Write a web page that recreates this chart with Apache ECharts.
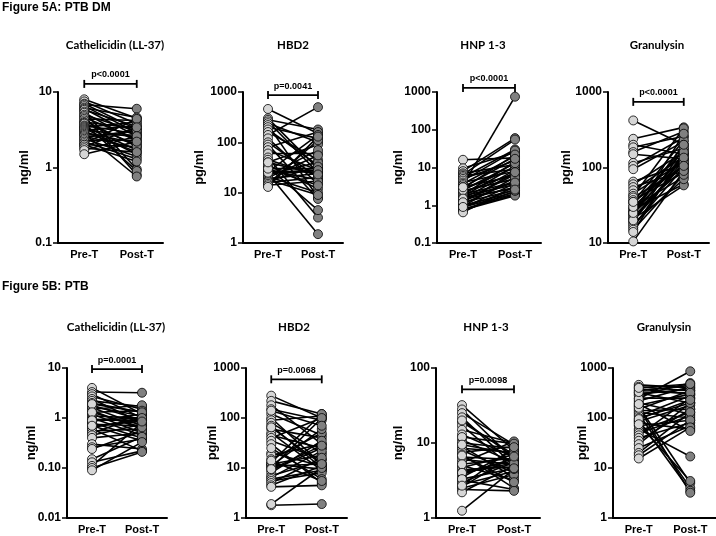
<!DOCTYPE html>
<html><head><meta charset="utf-8">
<script src="https://cdn.jsdelivr.net/npm/echarts@6/dist/echarts.min.js"></script>
<style>html,body{margin:0;padding:0;background:#fff}#c{width:716px;height:536px}</style>
</head><body><div id="c"></div>
<script>
// ---------- data ----------
const categories = ['Pre-T', 'Post-T'];
const panelTitles = ['Cathelicidin (LL-37)', 'HBD2', 'HNP 1-3', 'Granulysin', 'Cathelicidin (LL-37)', 'HBD2', 'HNP 1-3', 'Granulysin'];
const unitNames = ['ng/ml', 'pg/ml', 'ng/ml', 'pg/ml', 'ng/ml', 'pg/ml', 'ng/ml', 'pg/ml'];
const pValues = ['p<0.0001', 'p=0.0041', 'p<0.0001', 'p<0.0001', 'p=0.0001', 'p=0.0068', 'p=0.0098', null];
const bracketLevels = [12.8, 870, 1280, 740, 9.5, 594, 52, null];
const yMins = [0.1, 1, 0.1, 10, 0.01, 1, 1, 1];
const yMaxs = [10, 1000, 1000, 1000, 10, 1000, 100, 1000];
const yTickLabels5B = {'10': '10', '1': '1', '0.1': '0.10', '0.01': '0.01'};

// Figure 5A: PTB DM
const cathDM_pre  = [8.0, 7.5, 7.0, 6.8, 6.5, 6.2, 6.0, 5.8, 5.5, 5.3, 5.0, 4.8, 4.6, 4.4, 4.2, 4.0, 3.9, 3.8, 3.6, 3.5, 3.4, 3.3, 3.2, 3.1, 3.0, 2.9, 2.8, 2.7, 2.6, 2.5, 2.4, 2.3, 2.2, 2.1, 2.0, 2.0, 1.9, 1.8, 1.7, 1.5];
const cathDM_post = [4.5, 3.8, 3.2, 6.0, 2.9, 4.6, 2.6, 3.5, 0.95, 2.2, 3.0, 0.8, 2.4, 4.2, 1.9, 3.3, 2.0, 0.9, 2.8, 1.7, 4.0, 1.5, 2.5, 3.6, 1.6, 2.1, 0.76, 2.7, 1.8, 3.1, 1.4, 2.3, 1.3, 4.4, 1.9, 1.2, 3.4, 1.6, 2.6, 2.2];
const hbdDM_pre   = [460, 300, 280, 260, 240, 220, 200, 180, 160, 140, 120, 100, 90, 80, 70, 60, 50, 45, 40, 35, 32, 30, 28, 26, 25, 24, 23, 22, 21, 20, 19, 18, 17, 16, 15, 14, 13, 25, 30, 40];
const hbdDM_post  = [150, 30, 180, 25, 100, 8, 120, 35, 45, 500, 15, 20, 7.5, 160, 28, 60, 3.2, 22, 90, 12, 4.5, 30, 18, 140, 26, 1.5, 40, 70, 10, 55, 24, 9, 33, 20, 110, 17, 130, 28, 14, 23];
const hnpDM_pre   = [16, 9.5, 8, 7, 6.5, 6, 5.5, 5, 4.5, 4, 3.7, 3.4, 3.1, 2.8, 2.6, 2.4, 2.2, 2.0, 1.9, 1.8, 1.7, 1.6, 1.5, 1.4, 1.3, 1.2, 1.1, 1.0, 0.95, 0.9, 0.85, 0.8, 0.75, 0.7, 0.65, 2.5, 3.0, 1.5, 1.2, 0.9];
const hnpDM_post  = [18, 25, 60, 12, 55, 9, 30, 15, 28, 8, 20, 750, 6, 22, 10, 5, 7, 4, 14, 3.5, 11, 2.8, 8.5, 3, 6.5, 2.5, 4.5, 2.2, 5.5, 2, 3.8, 1.9, 1.8, 2.4, 3.2, 13, 17, 4, 7.5, 2.6];
const graDM_pre   = [420, 240, 200, 185, 160, 150, 115, 105, 95, 65, 60, 55, 50, 45, 42, 40, 37, 35, 33, 30, 28, 27, 26, 25, 24, 23, 22, 21, 20, 19, 18, 17, 16, 15, 14, 10.5, 20, 25, 30, 35];
const graDM_post  = [200, 340, 150, 260, 300, 130, 180, 250, 220, 110, 160, 90, 140, 120, 330, 100, 85, 230, 170, 75, 60, 200, 130, 95, 150, 280, 110, 58, 125, 180, 70, 100, 145, 80, 160, 90, 115, 200, 135, 105];

// Figure 5B: PTB
const cathTB_pre  = [4.0, 3.3, 3.0, 2.7, 2.4, 2.2, 2.0, 1.8, 1.7, 1.6, 1.5, 1.4, 1.3, 1.2, 1.1, 1.0, 0.95, 0.9, 0.85, 0.8, 0.75, 0.7, 0.65, 0.6, 0.55, 0.5, 0.45, 0.4, 0.3, 0.26, 0.24, 0.15, 0.13, 0.11, 0.10, 0.09, 1.9, 1.3, 0.9, 0.7];
const cathTB_post = [1.2, 3.2, 1.0, 1.5, 0.8, 1.7, 1.3, 0.9, 1.1, 0.7, 1.8, 0.6, 1.4, 0.5, 1.0, 0.45, 0.85, 0.9, 1.2, 0.4, 0.7, 0.35, 0.95, 0.22, 0.6, 1.1, 0.75, 0.5, 0.24, 0.38, 0.55, 0.42, 0.22, 0.8, 0.21, 0.33, 1.3, 0.65, 1.0, 0.85];
const hbdTB_pre   = [280, 220, 180, 150, 120, 100, 90, 80, 70, 60, 50, 45, 40, 35, 30, 20, 18, 15, 13, 12, 12, 11, 11, 10, 9, 8, 7, 6.5, 6, 5.5, 5, 4.5, 4.2, 1.8, 1.9, 25, 65, 14, 9.5, 140];
const hbdTB_post  = [100, 120, 30, 90, 45, 12, 110, 20, 10, 40, 9, 25, 100, 15, 5, 11, 30, 50, 120, 9.5, 18, 12, 60, 100, 25, 35, 14, 22, 9, 8, 16, 11, 4.5, 1.9, 10, 6, 12, 5.5, 28, 70];
const hnpTB_pre   = [32, 28, 25, 22, 19, 17, 15, 13, 11, 10, 9, 8.5, 8, 7.5, 7, 6.5, 6, 5.5, 5, 4.7, 4.4, 4.1, 3.8, 3.5, 3.2, 3.0, 2.8, 2.6, 2.5, 2.4, 2.2, 1.25, 12, 9.5, 6.8, 5.2, 4.0, 3.3, 2.7, 20];
const hnpTB_post  = [8, 6, 9.5, 5, 7, 4.5, 10, 6.5, 5.5, 8.5, 3.5, 7.5, 4, 9, 2.5, 6, 5.2, 10.5, 3.2, 7, 4.8, 5.8, 6.2, 8, 2.4, 5.5, 4.2, 6.8, 3.8, 2.3, 5, 4.5, 9.8, 7.2, 3, 6.3, 5.4, 4.6, 8.8, 6.6];
const graTB_pre   = [460, 420, 380, 350, 320, 300, 280, 250, 220, 200, 180, 170, 150, 140, 130, 120, 110, 100, 90, 85, 80, 70, 60, 55, 50, 45, 40, 35, 30, 25, 20, 18, 15.5, 160, 240, 330, 190, 95, 75, 400];
const graTB_post  = [400, 350, 300, 450, 200, 380, 500, 250, 420, 120, 300, 5, 350, 150, 100, 4, 280, 200, 3.5, 180, 60, 90, 17, 130, 110, 250, 80, 150, 200, 70, 130, 90, 65, 3.2, 860, 320, 55, 230, 5.5, 480];

const preData  = [cathDM_pre, hbdDM_pre, hnpDM_pre, graDM_pre, cathTB_pre, hbdTB_pre, hnpTB_pre, graTB_pre];
const postData = [cathDM_post, hbdDM_post, hnpDM_post, graDM_post, cathTB_post, hbdTB_post, hnpTB_post, graTB_post];

// ---------- layout ----------
const gridBoxes = [
  {left: 58,  top: 92,  width: 105, height: 151},
  {left: 243, top: 92,  width: 100, height: 151},
  {left: 437, top: 92,  width: 104, height: 151},
  {left: 608, top: 92,  width: 101, height: 151},
  {left: 67,  top: 368, width: 100, height: 150},
  {left: 246, top: 368, width: 101, height: 150},
  {left: 436, top: 368, width: 104, height: 150},
  {left: 613, top: 368, width: 103, height: 150}
];
const nameGaps = [27, 37, 32, 35, 29, 27, 31, 24];
const titlePos = [[115, 45], [293, 45], [483, 45], [657, 45], [116, 327], [294, 327], [486, 327], [664, 327]];

const AX = 'Liberation Sans, Arial, sans-serif';
function fmtTick(p) {
  return function (v) {
    const r = parseFloat(Number(v).toPrecision(6));
    if (p === 4) return yTickLabels5B[String(r)] !== undefined ? yTickLabels5B[String(r)] : String(r);
    return String(r);
  };
}

const grid = [], xAxis = [], yAxis = [], series = [];
for (let p = 0; p < 8; p++) {
  grid.push(Object.assign({containLabel: false}, gridBoxes[p]));
  xAxis.push({
    type: 'category', gridIndex: p, data: categories, boundaryGap: true,
    axisLine: {lineStyle: {color: '#000', width: 2}},
    axisTick: {alignWithLabel: true, length: 4, lineStyle: {color: '#000', width: 1.5}},
    axisLabel: {color: '#000', fontFamily: AX, fontWeight: 'bold', fontSize: 11, margin: 6},
    splitLine: {show: false}
  });
  yAxis.push({
    type: 'log', logBase: 10, gridIndex: p, min: yMins[p], max: yMaxs[p],
    name: unitNames[p], nameLocation: 'middle', nameGap: nameGaps[p], nameMoveOverlap: false,
    nameTextStyle: {color: '#000', fontFamily: AX, fontWeight: 'bold', fontSize: 13},
    axisLine: {show: true, lineStyle: {color: '#000', width: 2}},
    axisTick: {show: true, length: 5, lineStyle: {color: '#000', width: 1.5}},
    minorTick: {show: false},
    axisLabel: {color: '#000', fontFamily: AX, fontWeight: 'bold', fontSize: 12, margin: 6, formatter: fmtTick(p)},
    splitLine: {show: false}
  });
  const pre = preData[p], post = postData[p];
  for (let i = 0; i < pre.length; i++) {
    series.push({
      type: 'line', xAxisIndex: p, yAxisIndex: p, data: [pre[i], post[i]],
      symbol: 'none', silent: true, z: 2,
      lineStyle: {color: '#000', width: 1.6}
    });
  }
  series.push({
    type: 'scatter', xAxisIndex: p, yAxisIndex: p, z: 3, symbol: 'circle', symbolSize: 9,
    data: pre.map(v => [0, v]),
    itemStyle: {color: '#d6d6d6', borderColor: '#000', borderWidth: 0.8, opacity: 1}
  });
  series.push({
    type: 'scatter', xAxisIndex: p, yAxisIndex: p, z: 3, symbol: 'circle', symbolSize: 9,
    data: post.map(v => [1, v]),
    itemStyle: {color: '#808080', borderColor: '#000', borderWidth: 0.8, opacity: 1}
  });
}

const chart = echarts.init(document.getElementById('c'), null, {renderer: 'canvas'});
chart.setOption({animation: false, backgroundColor: '#fff', grid, xAxis, yAxis, series});

// ---------- annotations ----------
const g = [];
g.push({type: 'text', x: 2, y: 8, style: {text: 'Figure 5A: PTB DM', fontFamily: AX, fontWeight: 'bold', fontSize: 12, fill: '#000', textVerticalAlign: 'middle'}});
g.push({type: 'text', x: 2, y: 287, style: {text: 'Figure 5B: PTB', fontFamily: AX, fontWeight: 'bold', fontSize: 12, fill: '#000', textVerticalAlign: 'middle'}});
for (let p = 0; p < 8; p++) {
  g.push({type: 'text', x: titlePos[p][0], y: titlePos[p][1], style: {text: panelTitles[p], fontFamily: 'Lato, sans-serif', fontWeight: 'bold', fontSize: 11.5, fill: '#000', textAlign: 'center', textVerticalAlign: 'middle'}});
  if (pValues[p]) {
    const a = chart.convertToPixel({xAxisIndex: p, yAxisIndex: p}, [0, bracketLevels[p]]);
    const b = chart.convertToPixel({xAxisIndex: p, yAxisIndex: p}, [1, bracketLevels[p]]);
    const ls = {stroke: '#000', lineWidth: 1.8};
    g.push({type: 'line', shape: {x1: a[0], y1: a[1], x2: b[0], y2: b[1]}, style: ls, z: 10});
    g.push({type: 'line', shape: {x1: a[0], y1: a[1] - 4, x2: a[0], y2: a[1] + 4}, style: ls, z: 10});
    g.push({type: 'line', shape: {x1: b[0], y1: b[1] - 4, x2: b[0], y2: b[1] + 4}, style: ls, z: 10});
    g.push({type: 'text', x: (a[0] + b[0]) / 2, y: a[1] - 9, z: 10, style: {text: pValues[p], fontFamily: AX, fontWeight: 'bold', fontSize: 9, fill: '#000', textAlign: 'center', textVerticalAlign: 'middle'}});
  }
}
chart.setOption({graphic: g});
</script></body></html>
